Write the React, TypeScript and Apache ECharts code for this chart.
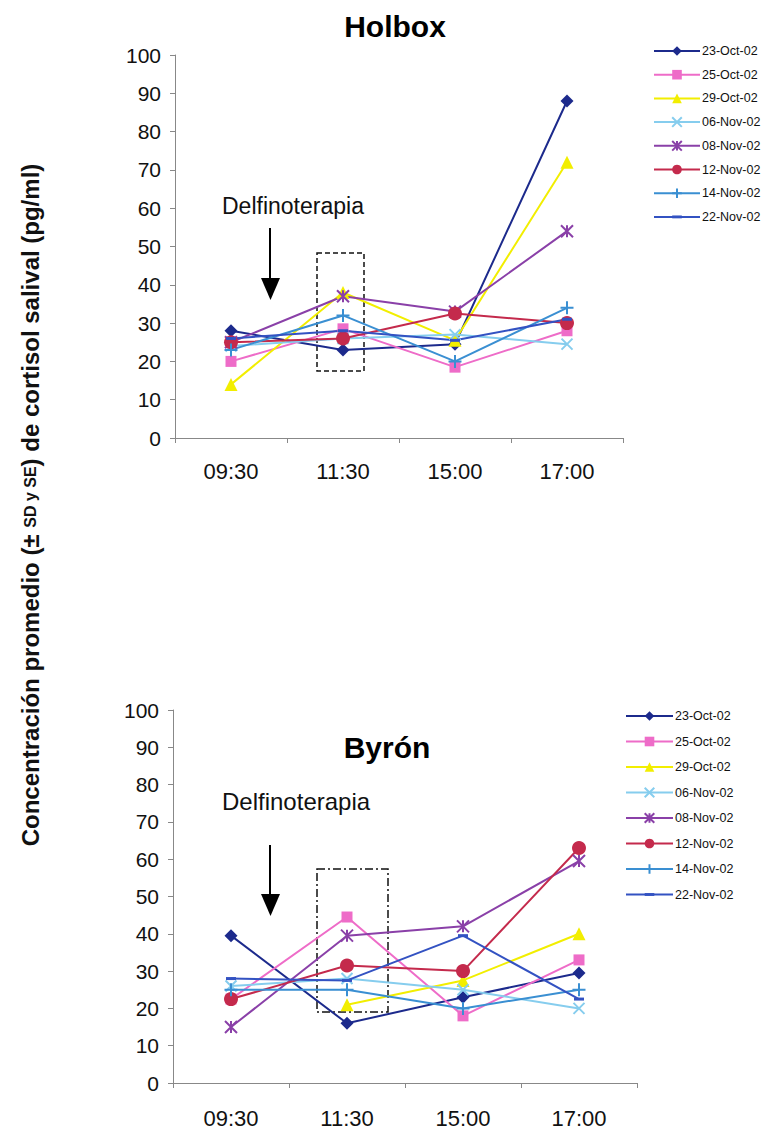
import React, { useEffect, useRef } from "react";
import * as echarts from "echarts";

const categories = ["09:30", "11:30", "15:00", "17:00"];
const seriesNames = ["23-Oct-02", "25-Oct-02", "29-Oct-02", "06-Nov-02", "08-Nov-02", "12-Nov-02", "14-Nov-02", "22-Nov-02"];
const seriesColors = ["#1c2a8c", "#ee6cc8", "#f2ee00", "#86cdee", "#8a40a8", "#c42a4c", "#3a8fd2", "#3352c2"];

// Holbox
const holbox_23Oct = [28, 23, 24.5, 88];
const holbox_25Oct = [20, 28.5, 18.5, 28];
const holbox_29Oct = [14, 38, 25.5, 72];
const holbox_06Nov = [24, 26, 27, 24.5];
const holbox_08Nov = [25, 37, 33, 54];
const holbox_12Nov = [25, 26, 32.5, 30];
const holbox_14Nov = [23, 32, 20, 34];
const holbox_22Nov = [26, 28, 25.5, 31];

// Byrón
const byron_23Oct = [39.5, 16, 23, 29.5];
const byron_25Oct = [22.5, 44.5, 18, 33];
const byron_29Oct = [null, 21, 27.5, 40];
const byron_06Nov = [26, 28, 25, 20];
const byron_08Nov = [15, 39.5, 42, 59.5];
const byron_12Nov = [22.5, 31.5, 30, 63];
const byron_14Nov = [25, 25, 20, 25];
const byron_22Nov = [28, 27.5, 39.5, 22.5];

const yTicks = [0, 10, 20, 30, 40, 50, 60, 70, 80, 90, 100];

const holboxData = [holbox_23Oct, holbox_25Oct, holbox_29Oct, holbox_06Nov, holbox_08Nov, holbox_12Nov, holbox_14Nov, holbox_22Nov];
const byronData = [byron_23Oct, byron_25Oct, byron_29Oct, byron_06Nov, byron_08Nov, byron_12Nov, byron_14Nov, byron_22Nov];

const X_PATH = "path://M0,0 L10,10 M10,0 L0,10";
const AST_PATH = "path://M0,0 L10,10 M10,0 L0,10 M5,0 L5,10";
const PLUS_PATH = "path://M5,0 L5,10 M0,5 L10,5";
const DASH_PATH = "path://M0,0 M10,10 M0,3.5 L10,3.5 L10,6.5 L0,6.5 Z";
const symbols: any[] = ["diamond", "rect", "triangle", X_PATH, AST_PATH, "circle", PLUS_PATH, DASH_PATH];
const symbolSizes: any[] = [13, 11, 13, 11, 12, 14, 13, 10];
const stroked = [false, false, false, true, true, false, true, false];

const FONT = "'Liberation Sans', Arial, sans-serif";

function makeSeries(data: any[][], idx: number) {
  return data.map((vals, i) => ({
    name: seriesNames[i],
    type: "line",
    xAxisIndex: idx,
    yAxisIndex: idx,
    data: vals,
    symbol: symbols[i],
    symbolSize: symbolSizes[i],
    showAllSymbol: true,
    connectNulls: false,
    lineStyle: { color: seriesColors[i], width: 2 },
    itemStyle: {
      color: seriesColors[i],
      borderColor: seriesColors[i],
      borderWidth: stroked[i] ? 2 : 0,
    },
    emphasis: { disabled: true },
  }));
}

function xAxis(gridIndex: number, margin: number, fontSize: number) {
  return {
    type: "category",
    gridIndex,
    data: categories,
    boundaryGap: true,
    axisLine: { lineStyle: { color: "#888", width: 1 } },
    axisTick: { show: true, length: 5, lineStyle: { color: "#888" } },
    axisLabel: { color: "#111", fontSize, fontFamily: FONT, margin },
    splitLine: { show: false },
  };
}

function yAxis(gridIndex: number, fontSize: number) {
  return {
    type: "value",
    gridIndex,
    min: yTicks[0],
    max: yTicks[yTicks.length - 1],
    interval: 10,
    axisLine: { show: true, lineStyle: { color: "#888", width: 1 } },
    axisTick: { show: true, length: 5, lineStyle: { color: "#888" } },
    axisLabel: { color: "#111", fontSize, fontFamily: FONT, margin: 14 },
    splitLine: { show: false },
  };
}

export default function App() {
  const ref = useRef<HTMLDivElement>(null);
  useEffect(() => {
    if (!ref.current) return;
    const chart = echarts.init(ref.current, undefined, { renderer: "svg" });
    const legendText = { fontSize: 12.5, lineHeight: 14, fontFamily: FONT, color: "#111", padding: [0, 0, 0, -3] };
    const option: any = {
      animation: false,
      backgroundColor: "#ffffff",
      title: [
        { text: "Holbox", left: 390, top: 6, textAlign: "center", textStyle: { fontSize: 30, fontWeight: "bold", fontFamily: FONT, color: "#000" } },
        { text: "Byrón", left: 382, top: 727, textAlign: "center", textStyle: { fontSize: 30, fontWeight: "bold", fontFamily: FONT, color: "#000" } },
      ],
      grid: [
        { left: 175, top: 55, width: 448, height: 383 },
        { left: 173, top: 710, width: 464, height: 373 },
      ],
      xAxis: [xAxis(0, 22, 22), xAxis(1, 24, 22)],
      yAxis: [yAxis(0, 21), yAxis(1, 21)],
      legend: [
        {
          orient: "vertical",
          left: 653,
          top: 44,
          padding: 0,
          itemWidth: 46,
          itemHeight: 12,
          itemGap: 9.7,
          data: seriesNames,
          textStyle: legendText,
          selectedMode: false,
        },
        {
          orient: "vertical",
          left: 625,
          top: 709,
          padding: 0,
          itemWidth: 47,
          itemHeight: 12,
          itemGap: 11.5,
          data: seriesNames,
          textStyle: legendText,
          selectedMode: false,
        },
      ],
      graphic: [
        {
          type: "text",
          x: 30,
          y: 505,
          rotation: Math.PI / 2,
          style: {
            text: "Concentración promedio (± {s|SD y SE}) de cortisol salival (pg/ml)",
            fontSize: 24,
            fontWeight: "bold",
            fontFamily: FONT,
            fill: "#111",
            align: "center",
            verticalAlign: "middle",
            rich: { s: { fontSize: 16, fontWeight: "bold", fontFamily: FONT, fill: "#111" } },
          },
        },
        // Holbox annotation
        { type: "text", x: 222, y: 206, style: { text: "Delfinoterapia", fontSize: 23, fontFamily: FONT, fill: "#111", align: "left", verticalAlign: "middle" } },
        { type: "line", shape: { x1: 270, y1: 228, x2: 270, y2: 282 }, style: { stroke: "#000", lineWidth: 2 } },
        { type: "polygon", shape: { points: [[261, 278], [280, 278], [270.5, 300]] }, style: { fill: "#000" } },
        { type: "rect", shape: { x: 317, y: 253, width: 47, height: 118 }, style: { fill: "none", stroke: "#111", lineWidth: 1.5, lineDash: [5, 3] } },
        // Byrón annotation
        { type: "text", x: 222, y: 801, style: { text: "Delfinoterapia", fontSize: 24, fontFamily: FONT, fill: "#111", align: "left", verticalAlign: "middle" } },
        { type: "line", shape: { x1: 270, y1: 845, x2: 270, y2: 898 }, style: { stroke: "#000", lineWidth: 2 } },
        { type: "polygon", shape: { points: [[261, 894], [280, 894], [270.5, 916]] }, style: { fill: "#000" } },
        { type: "rect", shape: { x: 317, y: 869, width: 71, height: 143 }, style: { fill: "none", stroke: "#111", lineWidth: 1.5, lineDash: [8, 3, 2, 3] } },
      ],
      series: [...makeSeries(holboxData, 0), ...makeSeries(byronData, 1)],
    };
    chart.setOption(option);
    return () => chart.dispose();
  }, []);
  return (
    <div
      ref={ref}
      style={{ position: "absolute", left: 0, top: 0, width: 769, height: 1133 }}
    />
  );
}
